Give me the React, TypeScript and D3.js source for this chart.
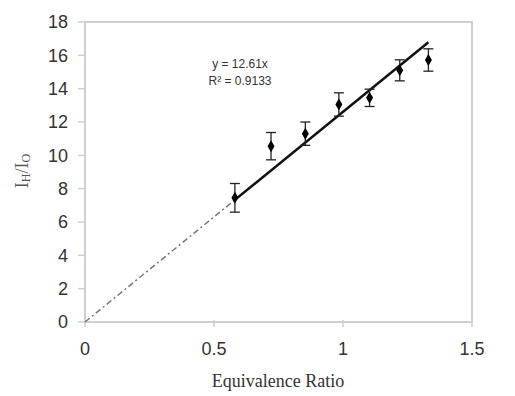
import React from "react";
import * as d3 from "d3";

const xValues = [0.581, 0.721, 0.854, 0.984, 1.103, 1.22, 1.331];
const yValues = [7.45, 10.55, 11.3, 13.05, 13.45, 15.1, 15.72];
const yErrors = [0.86, 0.82, 0.7, 0.7, 0.52, 0.63, 0.67];
const xTicks = [0, 0.5, 1, 1.5];
const yTicks = [0, 2, 4, 6, 8, 10, 12, 14, 16, 18];
const slope = 12.61;
const fitStart = 0.581;
const fitEnd = 1.331;
const eqLines = ["y = 12.61x", "R² = 0.9133"];

export default function App() {
  const W = 515, H = 396;
  const left = 85, right = 472, top = 22, bottom = 322;
  const x = d3.scaleLinear().domain([0, 1.5]).range([left, right]);
  const y = d3.scaleLinear().domain([0, 18]).range([bottom, top]);
  const axisColor = "#cfcfcf";
  const textColor = "#333";
  const line = d3.line<number>().x((d) => x(d)).y((d) => y(slope * d));
  const diamond = d3.symbol().type(d3.symbolDiamond).size(42)();
  return (
    <svg width={W} height={H} style={{ position: "absolute", left: 0, top: 0, background: "#fff" }}>
      <rect x={left} y={top} width={right - left} height={bottom - top} fill="none" stroke={axisColor} strokeWidth={2} />
      {yTicks.map((t) => (
        <g key={"y" + t}>
          <line x1={left - 7} x2={left} y1={y(t)} y2={y(t)} stroke={axisColor} strokeWidth={1.5} />
          <text x={left - 17} y={y(t)} dy="0.36em" textAnchor="end" fontFamily="Liberation Sans, Arial, sans-serif" fontSize={18} fill={textColor}>{t}</text>
        </g>
      ))}
      {xTicks.map((t) => (
        <g key={"x" + t}>
          <line x1={x(t)} x2={x(t)} y1={bottom - 2} y2={bottom + 5} stroke={axisColor} strokeWidth={1.5} />
          <text x={x(t)} y={355} textAnchor="middle" fontFamily="Liberation Sans, Arial, sans-serif" fontSize={18} fill={textColor}>{t}</text>
        </g>
      ))}
      <path d={line([0, fitStart]) || ""} fill="none" stroke="#777" strokeWidth={1.5} strokeDasharray="6 3 2 3" />
      <path d={line([fitStart, fitEnd]) || ""} fill="none" stroke="#111" strokeWidth={2.5} />
      {xValues.map((xv, i) => {
        const cx = x(xv);
        const y1 = y(yValues[i] + yErrors[i]);
        const y2 = y(yValues[i] - yErrors[i]);
        return (
          <g key={"p" + i}>
            <line x1={cx} x2={cx} y1={y1} y2={y2} stroke="#222" strokeWidth={1.3} />
            <line x1={cx - 5} x2={cx + 5} y1={y1} y2={y1} stroke="#222" strokeWidth={1.3} />
            <line x1={cx - 5} x2={cx + 5} y1={y2} y2={y2} stroke="#222" strokeWidth={1.3} />
            <path d={diamond || ""} transform={`translate(${cx},${y(yValues[i])})`} fill="#000" />
          </g>
        );
      })}
      {eqLines.map((s, i) => (
        <text key={s} x={240} y={68 + i * 17} textAnchor="middle" fontFamily="Liberation Sans, Arial, sans-serif" fontSize={12} fill={textColor}>{s}</text>
      ))}
      <text x={278} y={387} textAnchor="middle" fontFamily="Liberation Serif, Times New Roman, serif" fontSize={18} fill={textColor}>Equivalence Ratio</text>
      <text transform="translate(28,171) rotate(-90)" textAnchor="middle" fontFamily="Liberation Serif, Times New Roman, serif" fontSize={18} fill="#555">
        <tspan>I</tspan>
        <tspan fontSize={12} dy={2}>H</tspan>
        <tspan dy={-2}>/I</tspan>
        <tspan fontSize={12} dy={2}>O</tspan>
      </text>
    </svg>
  );
}
